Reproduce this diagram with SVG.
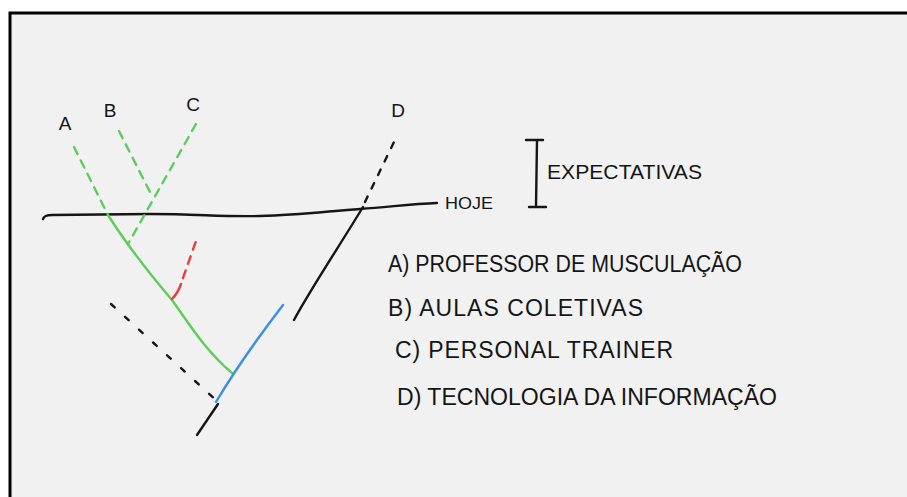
<svg xmlns="http://www.w3.org/2000/svg" width="907" height="497" viewBox="0 0 907 497">
<style>
.ink{fill:none;stroke:#151515;stroke-width:2.4;stroke-linecap:round;stroke-linejoin:round}
.g{fill:none;stroke:#5ccd5c;stroke-width:2.4;stroke-linecap:round}
.r{fill:none;stroke:#ec3b3b;stroke-width:2.4;stroke-linecap:round}
.b{fill:none;stroke:#3a8ee6;stroke-width:2.4;stroke-linecap:round}
.dash{stroke-dasharray:8 7}
.dot{stroke-dasharray:5 14}
.lbl{font-family:"Liberation Sans",Arial,sans-serif;fill:#151515;font-size:19px;text-anchor:middle}
.txt{font-family:"Liberation Sans",Arial,sans-serif;fill:#151515;font-size:23px}
</style>
<rect x="0" y="0" width="907" height="497" fill="#ffffff"/>
<rect x="10" y="13" width="910" height="500" fill="#f1f1f1" stroke="#000" stroke-width="3"/>
<g id="connectors">
<path class="ink" d="M43,219 C44,216 46,215 52,215 L150,214 C200,214 220,217 260,216 C300,215 330,211 360,209 C390,207 410,204 437,203"/>
<path class="g dash" d="M74,147 L108,215"/>
<path class="g" d="M108,215 C130,250 155,280 172,300 C190,325 205,350 232,373"/>
<path class="g dash" d="M119,131 L152,196"/>
<path class="g dash" d="M196,124 L128,244"/>
<path class="r" d="M172,299 C176,295 179,290 181,284"/>
<path class="r dash" d="M183,278 L196,241"/>
<path class="b" d="M216,402 C235,370 260,335 283,305"/>
<path class="ink" d="M197,435 L218,404"/>
<path class="ink dot" d="M111,304 L218,402"/>
<path class="ink" d="M294,320 C310,290 340,245 363,207"/>
<path class="ink dot" style="stroke-dasharray:6 9" d="M365,202 L395,140"/>
<path class="ink" d="M526,140 L543,140 M537,140 L536,207 M529,207 L546,207"/>
</g>
<g id="labelA"><text class="lbl" x="65" y="130">A</text></g>
<g id="labelB"><text class="lbl" x="110" y="117">B</text></g>
<g id="labelC"><text class="lbl" x="193" y="111">C</text></g>
<g id="labelD"><text class="lbl" x="398" y="117">D</text></g>
<g id="hoje"><text class="txt" style="font-size:17px" x="445" y="209" textLength="48" lengthAdjust="spacingAndGlyphs">HOJE</text></g>
<g id="expectativas"><text class="txt" style="font-size:21px" x="547" y="179" textLength="155" lengthAdjust="spacingAndGlyphs">EXPECTATIVAS</text></g>
<g id="legend">
<text class="txt" x="388" y="272" textLength="354" lengthAdjust="spacingAndGlyphs">A) PROFESSOR DE MUSCULAÇÃO</text>
<text class="txt" x="388" y="316" textLength="255" lengthAdjust="spacing">B) AULAS COLETIVAS</text>
<text class="txt" x="395" y="358" textLength="278" lengthAdjust="spacing">C) PERSONAL TRAINER</text>
<text class="txt" x="397" y="405" textLength="380" lengthAdjust="spacingAndGlyphs">D) TECNOLOGIA DA INFORMAÇÃO</text>
</g>
</svg>
